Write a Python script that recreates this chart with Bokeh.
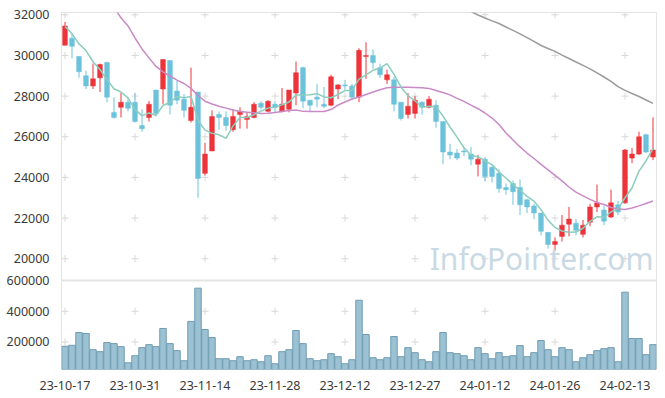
from bokeh.plotting import figure
from bokeh.models import (Range1d, FixedTicker, ColumnDataSource, Label, Span)
from bokeh.embed import file_html
from bokeh.resources import INLINE

# ---------------- data ----------------
opens = [30500, 30850, 29950, 29000, 28500, 28900, 29650, 27200, 27450, 27700,
         27700, 26550, 26950, 28300, 28350, 29750, 28250, 27850, 26800, 28200,
         24200, 25300, 27100, 26950, 26350, 27100, 26850, 26950, 27650, 27250,
         27600, 27250, 27350, 28150, 29400, 27800, 27950, 27600, 27550, 28350,
         28550, 28500, 27950, 29950, 30000, 29400, 28800, 28800, 27700, 27100,
         27150, 27700, 27450, 27550, 26750, 25250, 25200, 25300, 25150, 24650,
         24900, 24500, 24200, 23500, 23700, 23500, 22900, 22600, 22250, 21300,
         20700, 21100, 21700, 21750, 21200, 21800, 22550, 22400, 22050, 22650,
         22750, 24950, 25150, 26100, 25000]
highs = [31650, 31100, 29950, 29250, 29600, 29600, 29700, 27950, 28150, 27900,
         28150, 27350, 27750, 28300, 29800, 29750, 28750, 28100, 29400, 28200,
         25700, 27300, 27250, 27250, 27350, 27450, 27200, 27700, 27750, 27800,
         27750, 28400, 28300, 29700, 29450, 27800, 28600, 28450, 29050, 28600,
         28800, 28600, 30350, 30650, 30300, 29600, 29300, 28950, 27700, 28150,
         28000, 27750, 28000, 27800, 26750, 25650, 25400, 25500, 25500, 25100,
         25000, 24550, 24400, 23700, 23850, 23900, 22950, 22700, 22250, 21300,
         21050, 22150, 22550, 21950, 21900, 22700, 23650, 22600, 23400, 22850,
         25400, 25450, 26250, 26150, 26950]
lows = [30500, 29850, 28900, 28350, 28350, 28200, 27700, 26900, 26950, 27250,
        26700, 26250, 26750, 27000, 27600, 27100, 27600, 26950, 26700, 23000,
        24100, 25300, 26350, 26300, 26250, 26400, 26400, 26900, 27350, 27200,
        27200, 27200, 27200, 27550, 27400, 27250, 27450, 27400, 27500, 27850,
        28300, 27800, 27700, 28850, 29350, 28900, 28600, 27250, 26800, 26900,
        26900, 27100, 27400, 26450, 24650, 24900, 24850, 25050, 24600, 24050,
        23800, 23750, 23250, 23150, 22650, 22150, 22250, 21950, 21150, 20500,
        20400, 20850, 21100, 21150, 21050, 21600, 22300, 21650, 22000, 22150,
        22700, 24700, 25100, 25200, 24850]
closes = [31450, 30450, 29200, 28500, 28850, 29550, 27950, 26950, 27700, 27400,
          26750, 26400, 27600, 27150, 29800, 27550, 27800, 27300, 27450, 23950,
          25150, 27000, 26950, 26550, 27000, 27250, 27000, 27600, 27450, 27750,
          27450, 27600, 28300, 29150, 27750, 27550, 27850, 27500, 28950, 28550,
          28500, 27950, 30250, 30000, 29650, 29050, 29050, 27600, 26900, 27500,
          27800, 27450, 27850, 26750, 25250, 25100, 24950, 25250, 24900, 24900,
          24050, 24050, 23450, 23400, 23300, 22650, 22550, 22250, 21350, 20700,
          20850, 21650, 21950, 21400, 21650, 22550, 22750, 21850, 22750, 22300,
          25350, 25150, 26000, 25250, 25350]
volumes = [171800, 178400, 261500, 255000, 150000, 137000, 196000, 189400, 169700, 64800,
           110700, 163100, 182700, 169700, 288000, 189400, 143600, 78100, 333800, 550200,
           281300, 228900, 91200, 91200, 78100, 104300, 78100, 84600, 71500, 110700,
           58400, 137000, 150000, 274800, 189400, 91200, 78100, 84600, 124000, 104300,
           58400, 84600, 471500, 248500, 97700, 84600, 97700, 235400, 104300, 163100,
           130500, 84600, 71500, 137000, 261500, 130500, 124000, 110700, 84600, 163100,
           124000, 91200, 130500, 104300, 110700, 176400, 104300, 130500, 209200, 150000,
           104300, 163100, 150000, 71500, 97700, 117400, 143600, 156700, 163100, 71500,
           523900, 222300, 222300, 117400, 182700]
ma5_head = [31430, 31070, 30570, 30240]
NaN = float("nan")
ma20 = [NaN, NaN, NaN, NaN, NaN, NaN, 32900, 32380, 31850, 31450,
        30860, 30320, 29880, 29460, 29190, 28990, 28790, 28620, 28380, 28030,
        27750, 27610, 27500, 27410, 27320, 27240, 27210, 27180, 27150, 27160,
        27190, 27240, 27290, 27320, 27250, 27240, 27240, 27240, 27340, 27560,
        27710, 27860, 27960, 28080, 28200, 28310, 28410, 28430, 28440, 28430,
        28420, 28410, 28380, 28280, 28180, 28060, 27890, 27740, 27560, 27380,
        27170, 26920, 26600, 26190, 25840, 25500, 25200, 24930, 24640, 24370,
        24100, 23830, 23530, 23280, 23090, 22920, 22770, 22670, 22520, 22450,
        22420, 22500, 22600, 22720, 22840]
ma60 = [NaN] * 56 + [32510, 32330, 32160, 31990,
                     31840, 31700, 31570, 31400, 31230, 31060, 30880, 30690, 30490, 30340,
                     30200, 30020, 29850, 29680, 29510, 29340, 29140, 28940, 28720, 28470,
                     28280, 28130, 27980, 27810, 27640]
tick_idx = [0, 10, 20, 30, 40, 50, 60, 70, 80]
tick_labels = ["23-10-17", "23-10-31", "23-11-14", "23-11-28", "23-12-12",
               "23-12-27", "24-01-12", "24-01-26", "24-02-13"]
price_ticks = [20000, 22000, 24000, 26000, 28000, 30000, 32000]
volume_ticks = [200000, 400000, 600000]

# ---------------- derived ----------------
n = len(closes)
idx = list(range(n))
ma5 = []
for i in range(n):
    if i < 4:
        ma5.append(ma5_head[i])
    else:
        ma5.append(sum(closes[i - 4:i + 1]) / 5.0)

UP = "#ec343a"
DOWN = "#6cc2db"
colors = [UP if c >= o else DOWN for o, c in zip(opens, closes)]
tops = [max(o, c) for o, c in zip(opens, closes)]
bottoms = [min(o, c) for o, c in zip(opens, closes)]
src = ColumnDataSource(dict(x=idx, o=opens, h=highs, l=lows, c=closes,
                            top=tops, bottom=bottoms, color=colors,
                            vol=volumes, ma5=ma5, ma20=ma20, ma60=ma60))

FONT = "Noto Sans"
TXT = "#3a3a3a"
GRIDC = "#d8d8d8"
OUTL = "#e4e4e4"

# one frame holding the price panel (upper) and the volume panel (lower)
price_range = Range1d(14552, 32113)
vol_range = Range1d(21000, 2343500)

p = figure(width=658, height=395, output_backend="svg", toolbar_location=None,
           x_range=Range1d(-0.5, 84.5), y_range=price_range,
           min_border_left=61, min_border_right=2, min_border_top=12,
           min_border_bottom=26, tools="")
p.extra_y_ranges = {"vol": vol_range}
p.xgrid.visible = False
p.ygrid.visible = False
p.outline_line_color = OUTL
p.outline_line_width = 1

# separator between the two panels (top of the volume panel)
p.add_layout(Span(location=max(volume_ticks), dimension="width", y_range_name="vol",
                  line_color=OUTL, line_width=2))

# grid crosses
gx = [t for t in tick_idx for _ in price_ticks]
gy = [v for _ in tick_idx for v in price_ticks]
p.scatter(gx, gy, marker="cross", size=7, line_color=GRIDC, line_width=1)
vx = [t for t in tick_idx for _ in volume_ticks[:-1]]
vy = [v for _ in tick_idx for v in volume_ticks[:-1]]
p.scatter(vx, vy, marker="cross", size=7, line_color=GRIDC, line_width=1,
          y_range_name="vol")

p.add_layout(Label(x=52.1, y=20000, text="InfoPointer.com", text_font=FONT,
                   text_font_size="30px", text_color="#c9dae4",
                   text_baseline="alphabetic"))

# candles
p.segment(x0="x", y0="h", x1="x", y1="l", color="color", line_width=1, source=src)
p.vbar(x="x", width=0.68, top="top", bottom="bottom", fill_color="color",
       line_color="color", line_width=0.5, source=src)

# moving averages
p.line("x", "ma60", source=src, line_color="#9b9b9b", line_width=1.5)
p.line("x", "ma20", source=src, line_color="#c98ac6", line_width=1.5)
p.line("x", "ma5", source=src, line_color="#8ccdbd", line_width=1.5)

# volume
p.vbar(x="x", width=0.92, top="vol", bottom=0, fill_color="#9cc1d2",
       line_color="#6e9cb4", line_width=1, source=src, y_range_name="vol")

# left axis: price ticks plus volume ticks placed through the two ranges
def vol_to_price(v):
    f = (v - vol_range.start) / (vol_range.end - vol_range.start)
    return price_range.start + f * (price_range.end - price_range.start)

vol_tick_pos = [vol_to_price(v) for v in volume_ticks]
ya = p.yaxis[0]
ya.ticker = FixedTicker(ticks=price_ticks + vol_tick_pos)
overrides = {t: str(t) for t in price_ticks}
for pos, v in zip(vol_tick_pos, volume_ticks):
    overrides[pos] = str(v)
ya.major_label_overrides = overrides
ya.axis_line_color = None
ya.major_tick_line_color = None
ya.minor_tick_line_color = None
ya.major_label_standoff = 6
ya.major_label_text_font = FONT
ya.major_label_text_font_size = "12.5px"
ya.major_label_text_color = TXT

xa = p.xaxis[0]
xa.ticker = FixedTicker(ticks=tick_idx)
xa.major_label_overrides = {t: lab for t, lab in zip(tick_idx, tick_labels)}
xa.axis_line_color = None
xa.major_tick_line_color = None
xa.minor_tick_line_color = None
xa.major_label_standoff = 5
xa.major_label_text_font = FONT
xa.major_label_text_font_size = "12.5px"
xa.major_label_text_color = TXT

open("out.html", "w").write(file_html(p, INLINE))
